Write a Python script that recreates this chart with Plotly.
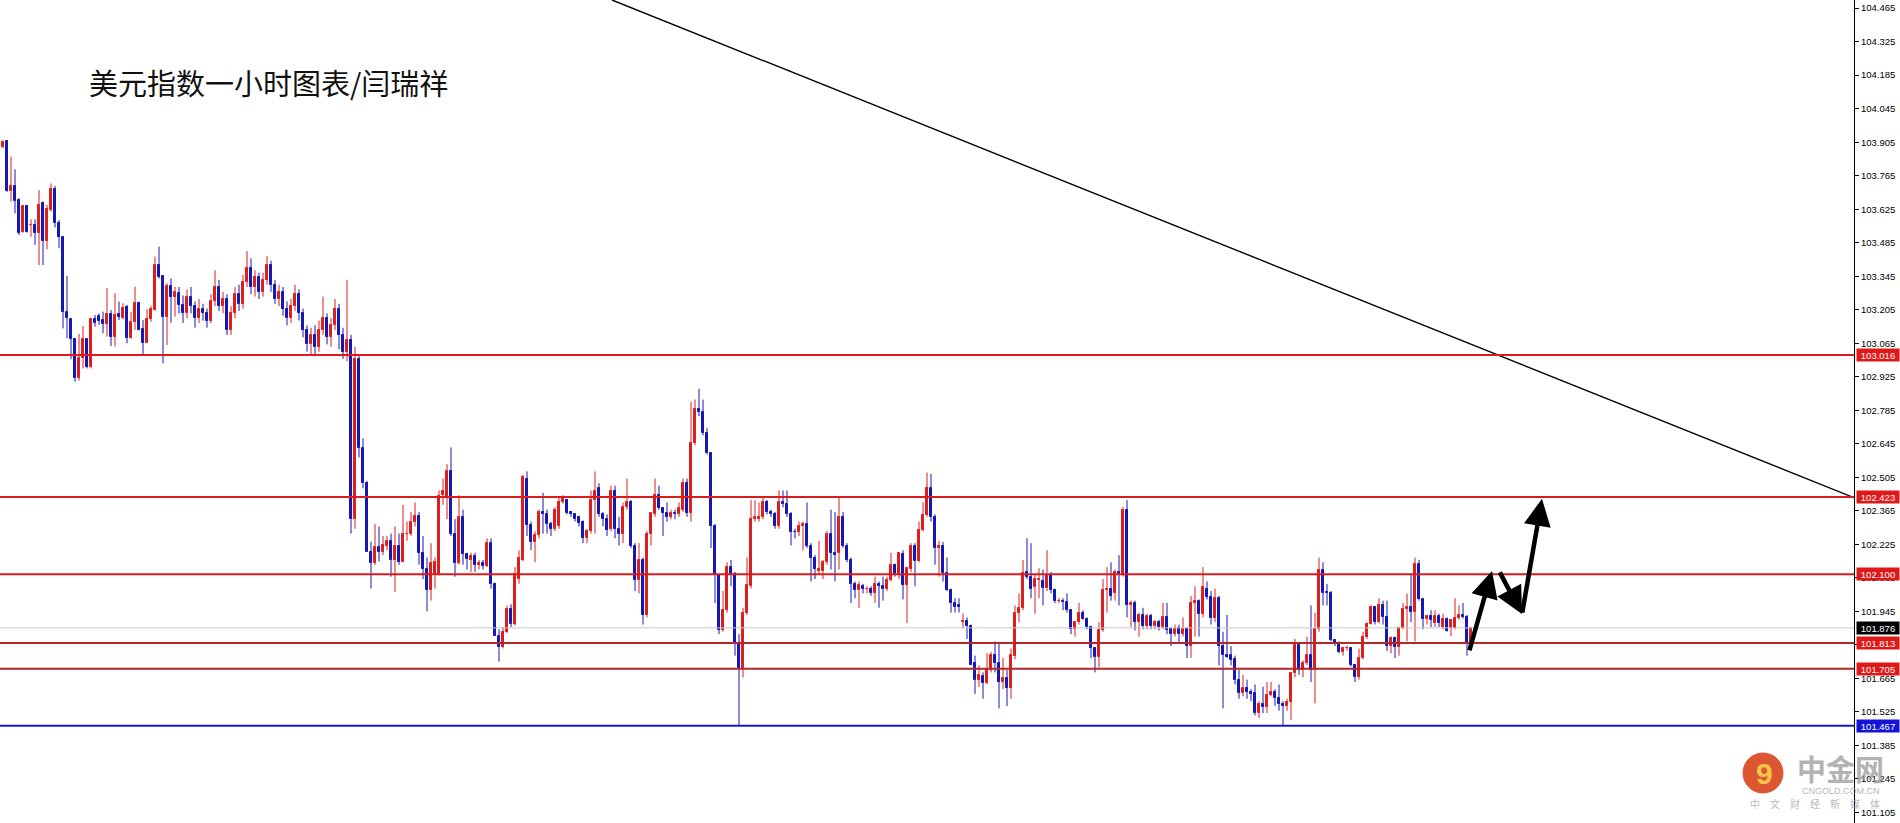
import plotly.graph_objects as go

# ---------------- data ----------------
opens = [
103.886,103.910,103.701,103.722,103.664,103.531,103.638,103.559,103.559,103.527,
103.650,103.494,103.622,103.708,103.566,103.508,103.197,103.165,103.082,102.919,
103.002,103.082,102.967,103.165,103.179,103.162,103.144,103.187,103.093,103.187,
103.169,103.218,103.086,103.155,103.235,103.123,103.068,103.165,103.204,103.392,
103.346,103.173,103.304,103.260,103.276,103.225,103.190,103.260,103.220,103.170,
103.210,103.190,103.160,103.240,103.300,103.220,103.250,103.120,103.190,103.270,
103.230,103.320,103.380,103.300,103.340,103.280,103.330,103.390,103.310,103.250,
103.280,103.210,103.170,103.220,103.270,103.190,103.120,103.060,103.100,103.050,
103.120,103.170,103.090,103.140,103.210,103.100,103.030,103.080,102.330,103.000,
102.626,102.480,102.195,102.146,102.215,102.195,102.220,102.240,102.160,102.220,
102.153,102.268,102.270,102.320,102.343,102.188,102.120,102.034,102.100,102.100,
102.430,102.420,102.530,102.268,102.148,102.340,102.185,102.160,102.176,102.140,
102.147,102.135,102.232,102.060,101.843,101.798,101.860,101.955,101.892,102.080,
102.160,102.500,102.306,102.236,102.264,102.360,102.350,102.310,102.290,102.300,
102.404,102.410,102.360,102.350,102.340,102.320,102.250,102.280,102.410,102.460,
102.350,102.330,102.290,102.450,102.290,102.270,102.380,102.400,102.220,102.076,
102.160,101.930,102.270,102.350,102.430,102.375,102.355,102.340,102.355,102.350,
102.370,102.480,102.355,102.647,102.790,102.780,102.690,102.605,102.300,102.097,
101.867,101.950,102.130,102.100,101.810,101.708,101.940,102.050,102.330,102.330,
102.340,102.400,102.360,102.350,102.300,102.400,102.395,102.350,102.277,102.275,
102.300,102.310,102.220,102.170,102.115,102.115,102.150,102.270,102.190,102.190,
102.340,102.220,102.160,102.060,102.035,102.050,102.040,102.040,102.020,102.060,
102.050,102.040,102.075,102.140,102.100,102.185,102.055,102.120,102.218,102.157,
102.287,102.348,102.460,102.340,102.210,102.220,102.104,102.035,101.980,101.970,
101.900,101.905,101.885,101.730,101.660,101.675,101.645,101.700,101.763,101.728,
101.652,101.665,101.624,101.760,101.937,101.958,102.110,102.087,102.045,102.075,
102.070,102.042,102.097,102.035,101.990,101.990,101.985,101.950,101.870,101.900,
101.937,101.915,101.880,101.790,101.756,101.868,102.035,102.040,102.020,102.110,
102.100,102.370,101.970,101.980,101.900,101.930,101.884,101.925,101.882,101.900,
101.880,101.920,101.870,101.850,101.874,101.850,101.870,101.800,101.980,101.990,
101.934,102.040,102.004,101.916,102.000,101.800,101.763,101.763,101.748,101.660,
101.606,101.624,101.610,101.605,101.520,101.560,101.545,101.596,101.610,101.582,
101.560,101.550,101.568,101.686,101.805,101.700,101.730,101.763,101.700,101.870,
102.118,102.028,102.020,101.826,101.815,101.777,101.790,101.790,101.720,101.670,
101.750,101.836,101.893,101.962,101.900,101.972,101.920,101.800,101.833,101.795,
101.875,101.954,101.965,101.944,102.143,101.995,101.912,101.925,101.898,101.926,
101.880,101.915,101.874,101.874,101.916,101.930,101.920,101.812]

highs = [
103.912,103.914,103.845,103.792,103.671,103.643,103.643,103.583,103.583,103.705,
103.657,103.643,103.733,103.722,103.580,103.510,103.346,103.166,103.083,103.104,
103.137,103.084,103.169,103.183,103.190,103.197,103.295,103.204,103.274,103.239,
103.232,103.225,103.197,103.301,103.239,103.162,103.207,103.221,103.427,103.469,
103.349,103.316,103.336,103.301,103.300,103.265,103.290,103.300,103.240,103.250,
103.230,103.210,103.270,103.370,103.330,103.280,103.270,103.220,103.300,103.310,
103.350,103.450,103.420,103.370,103.360,103.360,103.430,103.410,103.330,103.310,
103.300,103.240,103.250,103.310,103.290,103.210,103.140,103.130,103.140,103.160,
103.260,103.190,103.170,103.250,103.230,103.130,103.330,103.100,103.050,103.020,
102.668,102.490,102.236,102.310,102.300,102.260,102.260,102.270,102.300,102.270,
102.390,102.320,102.360,102.400,102.360,102.260,102.170,102.230,102.170,102.450,
102.500,102.560,102.630,102.330,102.430,102.370,102.190,102.190,102.190,102.160,
102.160,102.250,102.250,102.065,101.870,101.880,101.970,101.975,102.130,102.200,
102.515,102.530,102.320,102.280,102.370,102.440,102.370,102.320,102.380,102.420,
102.430,102.415,102.365,102.355,102.345,102.325,102.290,102.450,102.530,102.480,
102.360,102.350,102.470,102.470,102.340,102.400,102.500,102.410,102.230,102.230,
102.170,102.280,102.360,102.500,102.470,102.380,102.400,102.370,102.370,102.400,
102.500,102.500,102.820,102.830,102.875,102.830,102.710,102.610,102.310,102.100,
102.030,102.150,102.160,102.110,101.850,101.960,102.170,102.410,102.410,102.400,
102.420,102.410,102.370,102.360,102.450,102.450,102.450,102.360,102.290,102.320,
102.320,102.400,102.230,102.180,102.240,102.160,102.280,102.370,102.360,102.420,
102.360,102.230,102.170,102.070,102.070,102.060,102.050,102.050,102.090,102.070,
102.090,102.090,102.190,102.145,102.190,102.200,102.130,102.230,102.230,102.320,
102.400,102.525,102.520,102.350,102.240,102.235,102.170,102.040,102.000,102.000,
101.937,101.920,101.890,101.760,101.720,101.690,101.770,101.775,101.820,101.810,
101.750,101.700,101.790,101.970,102.020,102.160,102.250,102.230,102.100,102.125,
102.120,102.200,102.110,102.040,102.000,102.000,102.020,101.955,101.905,101.980,
101.950,101.920,101.885,101.795,101.900,102.080,102.130,102.150,102.120,102.180,
102.380,102.410,101.990,101.990,101.940,101.960,101.935,101.935,101.910,101.910,
101.980,101.980,101.880,101.890,101.890,101.920,101.880,102.010,102.050,101.995,
102.130,102.070,102.030,102.040,102.010,101.860,101.930,101.800,101.760,101.700,
101.680,101.660,101.620,101.640,101.570,101.630,101.650,101.650,101.620,101.640,
101.570,101.580,101.690,101.830,101.810,101.740,101.840,101.970,101.940,102.170,
102.150,102.060,102.030,101.830,101.820,101.795,101.800,101.795,101.725,101.790,
101.860,101.900,101.970,101.965,102.000,101.990,101.990,101.840,101.840,101.880,
101.980,102.020,102.100,102.170,102.160,102.000,101.930,101.950,101.950,101.935,
101.935,101.920,101.910,102.000,101.970,101.980,101.930,101.880]

lows = [
103.880,103.698,103.657,103.608,103.517,103.527,103.527,103.510,103.476,103.392,
103.392,103.458,103.615,103.549,103.462,103.127,103.086,102.998,102.905,102.909,
102.960,102.960,102.960,103.135,103.142,103.107,103.093,103.054,103.051,103.162,
103.165,103.065,103.084,103.121,103.119,103.012,103.065,103.155,103.201,103.336,
102.981,103.058,103.151,103.176,103.190,103.150,103.170,103.190,103.130,103.150,
103.160,103.130,103.150,103.220,103.200,103.190,103.100,103.100,103.170,103.200,
103.210,103.300,103.270,103.260,103.250,103.260,103.310,103.280,103.230,103.220,
103.180,103.140,103.150,103.200,103.160,103.090,103.030,103.020,103.010,103.030,
103.100,103.060,103.050,103.120,103.040,103.000,102.990,102.270,102.290,102.588,
102.459,102.195,102.041,102.139,102.153,102.180,102.200,102.090,102.027,102.140,
102.150,102.240,102.260,102.300,102.140,102.080,101.945,101.990,102.040,102.095,
102.390,102.330,102.260,102.090,102.140,102.140,102.120,102.110,102.110,102.120,
102.120,102.130,102.040,101.843,101.735,101.790,101.855,101.880,101.885,102.060,
102.155,102.260,102.200,102.150,102.250,102.270,102.270,102.260,102.280,102.290,
102.395,102.350,102.340,102.320,102.300,102.230,102.230,102.270,102.270,102.340,
102.300,102.260,102.280,102.250,102.220,102.230,102.370,102.210,102.030,102.020,
101.890,101.920,102.220,102.340,102.370,102.260,102.320,102.330,102.330,102.340,
102.360,102.340,102.320,102.640,102.760,102.680,102.600,102.210,101.980,101.850,
101.860,101.940,102.050,101.760,101.466,101.670,101.930,102.040,102.320,102.320,
102.330,102.350,102.340,102.290,102.290,102.380,102.340,102.220,102.250,102.260,
102.200,102.210,102.070,102.080,102.100,102.080,102.140,102.120,102.070,102.120,
102.210,102.150,101.980,102.000,101.960,102.020,102.020,102.010,101.980,101.960,
101.990,102.030,102.070,102.090,102.080,101.995,101.896,102.110,102.050,102.150,
102.280,102.340,102.320,102.140,102.090,102.070,102.030,101.940,101.940,101.940,
101.875,101.830,101.720,101.600,101.630,101.580,101.640,101.690,101.690,101.540,
101.620,101.550,101.580,101.745,101.900,101.950,102.080,102.000,101.935,102.000,
101.970,102.030,102.020,101.980,101.980,101.950,101.940,101.850,101.840,101.890,
101.910,101.870,101.750,101.690,101.710,101.860,101.940,101.990,101.990,101.970,
102.090,101.920,101.880,101.865,101.840,101.870,101.870,101.870,101.870,101.865,
101.870,101.850,101.800,101.840,101.810,101.840,101.750,101.750,101.840,101.840,
101.920,101.995,101.890,101.900,101.720,101.540,101.750,101.720,101.640,101.580,
101.590,101.580,101.570,101.510,101.500,101.520,101.520,101.590,101.550,101.530,
101.470,101.530,101.490,101.670,101.680,101.670,101.720,101.650,101.560,101.860,
101.970,101.970,101.820,101.800,101.770,101.760,101.780,101.715,101.650,101.660,
101.745,101.830,101.890,101.890,101.895,101.890,101.780,101.770,101.750,101.760,
101.870,101.820,101.900,101.820,101.990,101.870,101.890,101.880,101.880,101.880,
101.870,101.860,101.842,101.870,101.910,101.915,101.760,101.800]

closes = [
103.907,103.701,103.722,103.661,103.524,103.638,103.531,103.560,103.527,103.643,
103.494,103.626,103.708,103.566,103.508,103.197,103.169,103.082,102.919,103.002,
103.082,102.967,103.165,103.151,103.160,103.144,103.187,103.093,103.183,103.176,
103.211,103.086,103.155,103.232,103.121,103.068,103.165,103.207,103.392,103.343,
103.176,103.304,103.257,103.281,103.225,103.190,103.260,103.220,103.170,103.210,
103.190,103.160,103.240,103.300,103.220,103.250,103.120,103.190,103.270,103.230,
103.320,103.380,103.300,103.340,103.280,103.330,103.390,103.310,103.250,103.280,
103.210,103.170,103.220,103.270,103.190,103.120,103.060,103.100,103.050,103.120,
103.170,103.090,103.140,103.210,103.100,103.030,103.080,102.330,103.000,102.626,
102.480,102.195,102.146,102.213,102.195,102.222,102.240,102.160,102.220,102.153,
102.268,102.270,102.320,102.343,102.188,102.120,102.034,102.148,102.150,102.427,
102.450,102.530,102.268,102.148,102.340,102.185,102.162,102.176,102.140,102.147,
102.135,102.232,102.060,101.843,101.798,101.860,101.955,101.892,102.100,102.167,
102.505,102.306,102.236,102.264,102.360,102.350,102.310,102.290,102.370,102.404,
102.420,102.355,102.350,102.330,102.315,102.250,102.280,102.410,102.450,102.350,
102.330,102.285,102.450,102.290,102.270,102.380,102.400,102.220,102.076,102.160,
101.930,102.270,102.354,102.430,102.375,102.355,102.340,102.355,102.350,102.376,
102.480,102.355,102.647,102.790,102.780,102.690,102.605,102.300,102.097,101.867,
101.950,102.132,102.100,101.810,101.708,101.937,102.055,102.330,102.340,102.340,
102.400,102.360,102.350,102.300,102.400,102.395,102.350,102.275,102.275,102.300,
102.310,102.220,102.170,102.120,102.120,102.150,102.270,102.190,102.180,102.340,
102.220,102.160,102.060,102.035,102.055,102.040,102.040,102.020,102.060,102.050,
102.040,102.075,102.140,102.100,102.188,102.055,102.125,102.218,102.157,102.287,
102.348,102.460,102.340,102.208,102.220,102.104,102.035,101.980,101.965,101.965,
101.905,101.885,101.720,101.660,101.680,101.645,101.700,101.763,101.728,101.652,
101.665,101.624,101.763,101.937,101.958,102.107,102.087,102.040,102.080,102.082,
102.042,102.097,102.035,101.990,101.990,101.985,101.950,101.870,101.900,101.937,
101.915,101.880,101.790,101.756,101.868,102.035,102.040,102.010,102.110,102.100,
102.370,101.970,101.980,101.900,101.930,101.884,101.925,101.882,101.900,101.880,
101.920,101.868,101.850,101.870,101.850,101.870,101.800,101.980,101.990,101.934,
102.048,102.004,101.916,102.000,101.800,101.763,101.756,101.740,101.660,101.606,
101.624,101.610,101.600,101.520,101.560,101.545,101.596,101.610,101.582,101.560,
101.550,101.568,101.686,101.805,101.700,101.730,101.763,101.700,101.870,102.118,
102.020,102.020,101.826,101.815,101.777,101.790,101.792,101.720,101.673,101.750,
101.836,101.893,101.962,101.902,101.972,101.920,101.800,101.833,101.795,101.875,
101.954,101.965,101.944,102.143,101.995,101.912,101.925,101.909,101.926,101.895,
101.915,101.865,101.908,101.916,101.930,101.920,101.812,101.877]

# horizontal levels (price, line colour, label box colour, line width)
level_prices = [103.016, 102.423, 102.100, 101.876, 101.813, 101.705, 101.467]
level_line_colors = ["#dc1c1c", "#dc1c1c", "#dc1c1c", "#c8c8c8", "#b3262a", "#b3262a", "#1818c8"]
level_box_colors = ["#e01818", "#e01818", "#e01818", "#000000", "#e01818", "#e01818", "#1414d8"]
level_widths = [2, 2, 2, 1, 2, 2, 2]

# y-axis tick labels
tick_values = [round(101.105 + 0.14 * k, 3) for k in range(25)]
tick_labels = [f"{v:.3f}" for v in tick_values]

# trend line (bar index, price)
trend_x = [152.25, 462.75]
trend_y = [104.499, 102.42]

# projected path arrows (bar index, price): tail -> tip
arrow_tails = [(366.5, 101.776), (374.0, 102.114), (379.75, 101.934)]
arrow_tips = [(372.25, 102.114), (379.75, 101.934), (384.75, 102.415)]

title_text = "美元指数一小时图表/闫瑞祥"

# ---------------- figure ----------------
W, H = 1900, 823
R_MARGIN = 46
PW = W - R_MARGIN
UP, DOWN = "#dc1e1e", "#1616b4"
Y_RANGE = [101.061, 104.499]
X_RANGE = [-0.75, -0.75 + PW / 4.0]

def px(xp):
    return xp / PW

def py(yp):
    return 1 - yp / H

fig = go.Figure()

# wicks (one trace per colour)
for want_up, col in ((True, UP), (False, DOWN)):
    wx, wy = [], []
    for i, (o, h, l, c) in enumerate(zip(opens, highs, lows, closes)):
        if (c >= o) == want_up:
            wx += [i, i, None]
            wy += [l, h, None]
    fig.add_trace(go.Scatter(x=wx, y=wy, mode="lines", line=dict(color=col, width=1),
                             showlegend=False, hoverinfo="skip"))

# bodies
body_x = list(range(len(closes)))
body_base = [min(o, c) for o, c in zip(opens, closes)]
body_len = [abs(c - o) for o, c in zip(opens, closes)]
body_col = [UP if c >= o else DOWN for o, c in zip(opens, closes)]
fig.add_trace(go.Bar(x=body_x, y=body_len, base=body_base, width=0.55,
                     marker=dict(color=body_col, line=dict(color=body_col, width=1)),
                     showlegend=False, hoverinfo="skip"))

fig.add_trace(go.Scatter(x=trend_x, y=trend_y, mode="lines",
                         line=dict(color="#000000", width=1.4),
                         showlegend=False, hoverinfo="skip"))

shapes = []
annotations = []
for p, lc, bc, lw in zip(level_prices, level_line_colors, level_box_colors, level_widths):
    shapes.append(dict(type="line", xref="paper", yref="y", x0=0, x1=1, y0=p, y1=p,
                       line=dict(color=lc, width=lw), layer="above"))
    annotations.append(dict(xref="paper", yref="y", x=1, y=p, xanchor="left", yanchor="middle",
                            xshift=2, text=f"{p:.3f}", showarrow=False, bgcolor=bc,
                            width=40, height=10, borderpad=1,
                            font=dict(color="#ffffff", size=9.5, family="Liberation Sans")))

for (tx, ty), (hx, hy) in zip(arrow_tails, arrow_tips):
    annotations.append(dict(x=hx, y=hy, ax=tx, ay=ty, xref="x", yref="y", axref="x", ayref="y",
                            text="", showarrow=True, arrowhead=2, arrowsize=1.2, arrowwidth=4.5,
                            arrowcolor="#000000", standoff=0, startstandoff=0))

annotations.append(dict(xref="paper", yref="paper", x=px(87), y=py(82), xanchor="left", yanchor="middle",
                        text=title_text, showarrow=False,
                        font=dict(family="Noto Sans CJK SC", size=29, color="#111111")))

# watermark
shapes.append(dict(type="circle", xref="paper", yref="paper",
                   x0=px(1743), x1=px(1783), y0=py(793), y1=py(753),
                   fillcolor="#d9441c", line=dict(color="#d9441c", width=1), opacity=0.9))
annotations.append(dict(xref="paper", yref="paper", x=px(1764), y=py(773), text="<b>9</b>",
                        showarrow=False, xanchor="center", yanchor="middle",
                        font=dict(family="Liberation Sans", size=30, color="#f7c548")))
annotations.append(dict(xref="paper", yref="paper", x=px(1840), y=py(768), text="<b>中金网</b>",
                        showarrow=False, xanchor="center", yanchor="middle", opacity=0.75,
                        font=dict(family="Noto Sans CJK SC", size=29, color="#9a9a9a")))
annotations.append(dict(xref="paper", yref="paper", x=px(1841), y=py(791), text="CNGOLD.COM.CN",
                        showarrow=False, xanchor="center", yanchor="middle", opacity=0.8,
                        font=dict(family="Liberation Sans", size=9, color="#a8a8a8")))
annotations.append(dict(xref="paper", yref="paper", x=px(1815), y=py(803),
                        text="中　文　财　经　新　媒　体",
                        showarrow=False, xanchor="center", yanchor="middle", opacity=0.8,
                        font=dict(family="Noto Sans CJK SC", size=10, color="#a8a8a8")))

fig.update_layout(
    width=W, height=H, autosize=False,
    margin=dict(l=0, r=R_MARGIN, t=0, b=0, pad=0),
    paper_bgcolor="#ffffff", plot_bgcolor="#ffffff",
    showlegend=False, shapes=shapes, annotations=annotations, bargap=0,
    xaxis=dict(range=X_RANGE, visible=False, fixedrange=True),
    yaxis=dict(range=Y_RANGE, side="right", tickvals=tick_values, ticktext=tick_labels,
               ticks="outside", ticklen=4, tickcolor="#000000", showline=True,
               linecolor="#000000", linewidth=1, showgrid=False, zeroline=False,
               tickfont=dict(family="Liberation Sans", size=9.5, color="#000000"),
               fixedrange=True),
)

fig.write_html("out.html", config={"displayModeBar": False},
               post_script="document.body.style.margin='0';document.body.style.overflow='hidden';")
